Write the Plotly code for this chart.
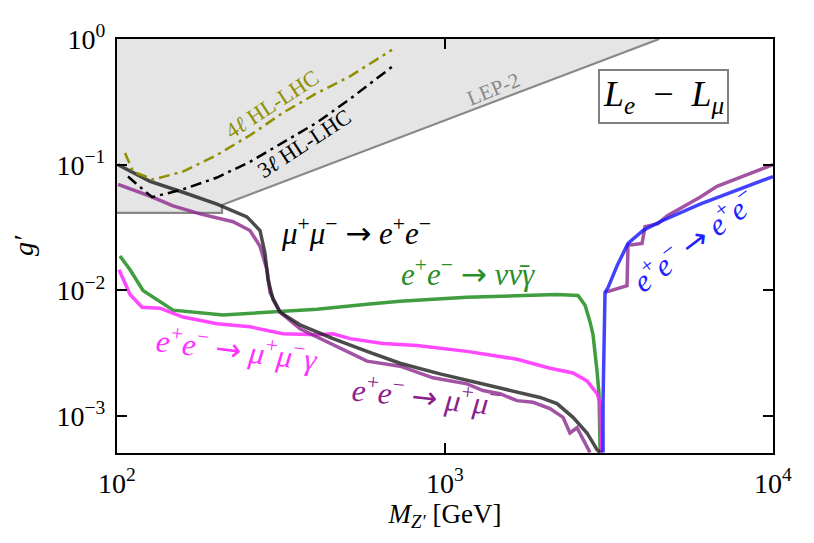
import math
import plotly.graph_objects as go

# ---------------- data ----------------
# LEP-2 excluded region boundary
lep_x = [100, 209, 209, 4500]
lep_y = [0.0414, 0.0414, 0.0478, 1.0]
lep_corner_x = [100]
lep_corner_y = [1.0]

# 4l HL-LHC projection
l4_x = [105.8, 111.9, 128.8, 158.9, 201.8, 254.4, 320.8, 407.3, 513.4, 689.2]
l4_y = [0.1241, 0.0882, 0.0763, 0.0882, 0.1197, 0.1715, 0.2595, 0.372, 0.505, 0.820]

# 3l HL-LHC projection
l3_x = [108.0, 127.9, 158.9, 201.8, 254.4, 320.8, 407.3, 513.4, 703.9]
l3_y = [0.0806, 0.0552, 0.0638, 0.0791, 0.1055, 0.1512, 0.2168, 0.334, 0.626]

# mu+ mu- -> e+ e-
mm_ee_x = [100.7, 126.1, 158.9, 201.8, 249.0, 272.9, 282.6, 288.7, 299.0, 314.1, 361.4,
           455.6, 578.4, 729.1, 965.6, 1471, 1949, 2195, 2456, 2710, 2907, 2969]
mm_ee_y = [0.1, 0.0737, 0.0604, 0.0487, 0.0385, 0.0300, 0.0198, 0.01219, 0.0085, 0.00673, 0.00533,
           0.00414, 0.00328, 0.00264, 0.00217, 0.00168, 0.00141, 0.00126, 0.00098, 0.000736, 0.000543, 0.000514]

# e+ e- -> mu+ mu-
ee_mm_x = [100.7, 126.1, 148.2, 179.1, 225.8, 254.4, 272.9, 286.6, 292.8, 314.1, 361.4, 455.6,
           578.4, 729.1, 919, 1167, 1306, 1471, 1658, 1855, 2090, 2290, 2404, 2526, 2710, 2768]
ee_mm_y = [0.0698, 0.0562, 0.0470, 0.0407, 0.0352, 0.0300, 0.0225, 0.0146, 0.00965, 0.00673, 0.00496, 0.00372,
           0.00274, 0.0025, 0.00202, 0.00181, 0.0016, 0.00151, 0.00133, 0.00129, 0.00115, 0.00098, 0.000736,
           0.00081, 0.000573, 0.000514]

# e+ e- -> e+ e- (purple, upper branch)
ee_ee2_x = [3075, 3589, 3614, 3988, 4073, 4461, 4752, 5990, 6749, 7932, 10000]
ee_ee2_y = [0.00965, 0.01094, 0.0229, 0.0237, 0.0322, 0.0340, 0.0392, 0.0552, 0.0673, 0.0791, 0.1]

# e+ e- -> e+ e- (blue)
ee_ee_x = [3033, 3033, 3075, 3141, 3345, 3614, 4016, 4524, 5990, 7551, 10000]
ee_ee_y = [0.000514, 0.00133, 0.00965, 0.01055, 0.0157, 0.0237, 0.0300, 0.0352, 0.0487, 0.0615, 0.0806]

# e+ e- -> nu nubar gamma
nng_x = [102.1, 109.6, 120.0, 148.2, 210.5, 299.0, 407.3, 578.4, 729.1, 1167, 1855, 2195, 2544,
         2673, 2768, 2827, 2907, 2948, 2969, 2990]
nng_y = [0.0188, 0.0146, 0.0100, 0.00698, 0.00638, 0.00673, 0.0071, 0.00777, 0.0082, 0.00882, 0.00914,
         0.0093, 0.00914, 0.00763, 0.00562, 0.00445, 0.00229, 0.00151, 0.000573, 0.000514]

# e+ e- -> mu+ mu- gamma
mmg_x = [101.4, 109.6, 119.2, 135.2, 158.9, 201.8, 254.4, 320.8, 407.3, 455.6, 513.4, 647.1,
         821.4, 1036, 1167, 1658, 2090, 2456, 2710, 2907, 2969, 2990]
mmg_y = [0.0146, 0.0093, 0.00736, 0.00723, 0.00615, 0.00543, 0.00514, 0.00453, 0.00445, 0.00453,
         0.00414, 0.00379, 0.00365, 0.0034, 0.00328, 0.00284, 0.00241, 0.00221, 0.00191, 0.00151,
         0.00130, 0.000514]

# tick labels / tick positions
x_tickvals = [100, 1000, 10000]
x_ticktext = ["10<sup>2</sup>", "10<sup>3</sup>", "10<sup>4</sup>"]
y_tickvals = [0.001, 0.01, 0.1, 1]
y_ticktext = ["10<sup>−3</sup>", "10<sup>−2</sup>", "10<sup>−1</sup>", "10<sup>0</sup>"]
x_minor = [m * 10 ** e for e in (2, 3) for m in range(2, 10)]
y_minor = [m * 10 ** e for e in (-4, -3, -2, -1) for m in range(2, 10)]

Y_MIN = 5.1e-4
X_RANGE = [2, 4]
Y_RANGE = [math.log10(Y_MIN), 0]

# figure geometry (page body has an 8px margin, so the plot area is shifted 8px up/left)
W, H = 814, 543
ML, MR, MT, MB = 109, 49, 25, 98
PW, PH = W - ML - MR, H - MT - MB

FONT = "Liberation Serif"
OLIVE = "#8f8f00"
PURPLE = "rgba(140,40,140,0.8)"
GREEN = "rgba(30,140,30,0.85)"
MAGENTA = "rgba(255,40,255,0.85)"
BLUE = "rgba(20,20,255,0.8)"
DARK = "rgba(30,30,30,0.8)"

fig = go.Figure()

# LEP-2 shaded region
fig.add_trace(go.Scatter(x=lep_x + lep_corner_x, y=lep_y + lep_corner_y, fill="toself",
                         fillcolor="#e5e5e5", line=dict(width=0), mode="lines",
                         hoverinfo="skip", showlegend=False))
fig.add_trace(go.Scatter(x=lep_x, y=lep_y, mode="lines",
                         line=dict(color="#888888", width=2.2), showlegend=False))

lw = 3.5
fig.add_trace(go.Scatter(x=nng_x, y=nng_y, mode="lines", line=dict(color=GREEN, width=lw), showlegend=False))
fig.add_trace(go.Scatter(x=mmg_x, y=mmg_y, mode="lines", line=dict(color=MAGENTA, width=lw), showlegend=False))
fig.add_trace(go.Scatter(x=ee_mm_x, y=ee_mm_y, mode="lines", line=dict(color=PURPLE, width=lw), showlegend=False))
fig.add_trace(go.Scatter(x=ee_ee2_x, y=ee_ee2_y, mode="lines", line=dict(color=PURPLE, width=lw), showlegend=False))
fig.add_trace(go.Scatter(x=ee_ee_x, y=ee_ee_y, mode="lines", line=dict(color=BLUE, width=lw), showlegend=False))
fig.add_trace(go.Scatter(x=mm_ee_x, y=mm_ee_y, mode="lines", line=dict(color=DARK, width=lw), showlegend=False))
fig.add_trace(go.Scatter(x=l4_x, y=l4_y, mode="lines",
                         line=dict(color=OLIVE, width=2.5, dash="11px,5px,3px,5px"), showlegend=False))
fig.add_trace(go.Scatter(x=l3_x, y=l3_y, mode="lines",
                         line=dict(color="black", width=2.5, dash="11px,5px,3px,5px"), showlegend=False))


def L(v):
    return math.log10(v)


def label(x, y, text, color, size=31, angle=0):
    fig.add_annotation(x=L(x), y=L(y), xref="x", yref="y", text=text, showarrow=False,
                       font=dict(family=FONT, size=size, color=color), textangle=angle)


ARROW = "&nbsp;<span style='font-family:DejaVu Sans'>→</span>&nbsp;"
EP = "<i>e</i><sup>+</sup><i>e</i><sup>−</sup>"
MP = "<i>μ</i><sup>+</sup><i>μ</i><sup>−</sup>"
label(296, 0.30, "4<i>ℓ</i> HL-LHC", OLIVE, 22, -33)
label(372, 0.148, "3<i>ℓ</i> HL-LHC", "black", 22, -33)
label(1409, 0.40, "LEP-2", "#888888", 21, -22)
label(535, 0.0294, MP + ARROW + EP, "black")
label(1175, 0.0138, EP + ARROW + "<i>νν̄γ</i>", "#2a8f2a")
label(232, 0.00346, EP + ARROW + MP + "<i>γ</i>", "#ff33ff", 31, 7)
label(880, 0.00146, EP + ARROW + MP, "#8c1f8c", 31, 6)
label(5703, 0.025, EP + ARROW + EP, "#2020ff", 31, -37)

fig.add_annotation(x=L(4625), y=L(0.352), xref="x", yref="y", showarrow=False,
                   text="<i>L<sub>e</sub></i>&nbsp; − &nbsp;<i>L<sub>μ</sub></i>",
                   font=dict(family=FONT, size=36, color="black"),
                   bordercolor="#808080", borderwidth=2, borderpad=3, bgcolor="white")


# inward tick marks on all four sides, drawn at the tick values (length given in plot fractions)
def xtick(v, length_px, width):
    f = length_px / PH
    for y0, y1 in ((0, f), (1, 1 - f)):
        fig.add_shape(type="line", xref="x", yref="paper", x0=L(v), x1=L(v), y0=y0, y1=y1,
                      line=dict(color="black", width=width), layer="above")


def ytick(v, length_px, width):
    f = length_px / PW
    for x0, x1 in ((0, f), (1, 1 - f)):
        fig.add_shape(type="line", xref="paper", yref="y", y0=L(v), y1=L(v), x0=x0, x1=x1,
                      line=dict(color="black", width=width), layer="above")


for v in x_tickvals:
    xtick(v, 10, 1.5)
for v in x_minor:
    xtick(v, 5, 1.2)
for v in y_tickvals:
    ytick(v, 10, 1.5)
for v in y_minor:
    if v >= Y_MIN:
        ytick(v, 5, 1.2)

axis_common = dict(type="log", showgrid=False, zeroline=False, showline=True, linecolor="black",
                   linewidth=2, mirror="ticks", ticks="inside", ticklen=10, tickwidth=2,
                   tickcolor="black", tickmode="array", ticklabelstandoff=4,
                   tickfont=dict(family=FONT, size=28, color="black"))

fig.update_layout(
    xaxis=dict(**axis_common, range=X_RANGE, tickvals=x_tickvals, ticktext=x_ticktext,
               title=dict(text="<i>M</i><sub><i>Z′</i></sub> [GeV]",
                          font=dict(family=FONT, size=27, color="black"), standoff=6)),
    yaxis=dict(**axis_common, range=Y_RANGE, tickvals=y_tickvals, ticktext=y_ticktext,
               title=dict(text="<i>g′</i>", font=dict(family=FONT, size=28, color="black"), standoff=16)),
)

fig.update_layout(width=W, height=H, margin=dict(l=ML, r=MR, t=MT, b=MB),
                  plot_bgcolor="white", paper_bgcolor="white", showlegend=False)

fig.write_html("out.html")
